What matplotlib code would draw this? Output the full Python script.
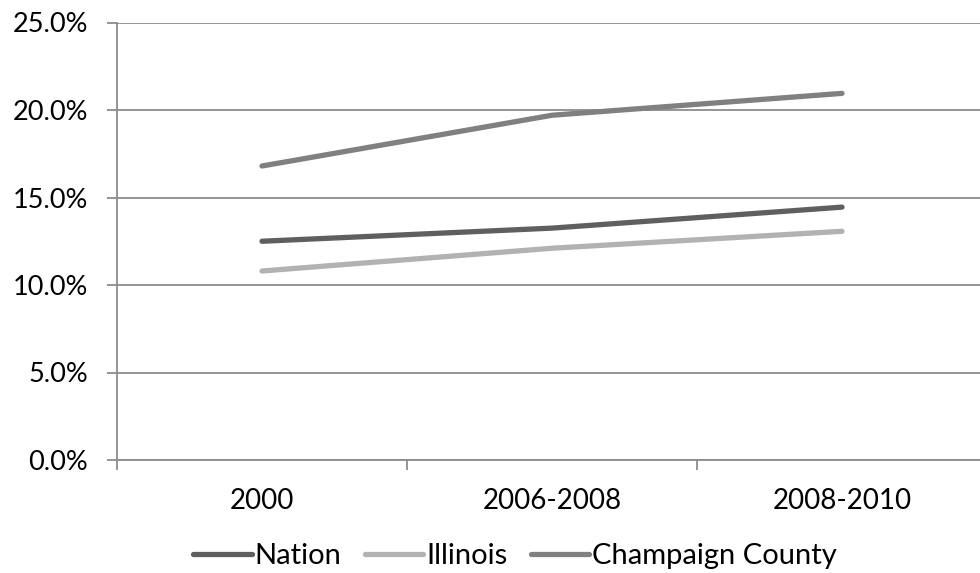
import matplotlib.pyplot as plt
from matplotlib.ticker import PercentFormatter

periods = ['2000', '2006-2008', '2008-2010']
nation = [12.5, 13.25, 14.45]
illinois = [10.8, 12.1, 13.07]
champaign = [16.8, 19.7, 20.95]

plt.rcParams['font.family'] = ['Lato', 'DejaVu Sans']

fig = plt.figure(figsize=(9.8, 5.73), dpi=100)
W, H = 980, 573
# axes spans category boundaries 117..987 px, y from 460 (0%) to 22.5 (25%)
ax = fig.add_axes([117 / W, (H - 460) / H, 870 / W, (460 - 22.5) / H])

x = range(len(periods))
ax.plot(x, nation, color='#5f5f5f', lw=3.8, solid_capstyle='round', label='Nation')
ax.plot(x, illinois, color='#b2b2b2', lw=3.8, solid_capstyle='round', label='Illinois')
ax.plot(x, champaign, color='#808080', lw=3.8, solid_capstyle='round', label='Champaign County')

ax.set_xlim(-0.5, 2.5)
ax.set_ylim(0, 25)
ax.set_yticks([0, 5, 10, 15, 20, 25])
ax.yaxis.set_major_formatter(PercentFormatter(decimals=1))
ax.set_xticks(list(x))
ax.set_xticklabels(periods)
ax.set_xticks([-0.5, 0.5, 1.5, 2.5], minor=True)

ax.grid(axis='y', color='#8c8c8c', lw=1.3)
ax.set_axisbelow(True)
for s in ['top', 'right']:
    ax.spines[s].set_visible(False)
ax.spines['left'].set_color('#8c8c8c')
ax.spines['bottom'].set_color('#8c8c8c')
ax.spines['left'].set_linewidth(1.3)
ax.spines['bottom'].set_linewidth(1.3)

ax.tick_params(axis='y', length=7, width=1.3, color='#8c8c8c', labelsize=19.5, pad=14)
ax.tick_params(axis='x', which='major', length=0, labelsize=20, pad=20)
ax.tick_params(axis='x', which='minor', length=7, width=1.3, color='#8c8c8c')

fig.legend(loc='center', bbox_to_anchor=(515 / W, (H - 556) / H), ncol=3, frameon=False,
           fontsize=21, handlelength=2.0, handletextpad=0.1, columnspacing=0.8)

fig.savefig('out.png', dpi=100)
